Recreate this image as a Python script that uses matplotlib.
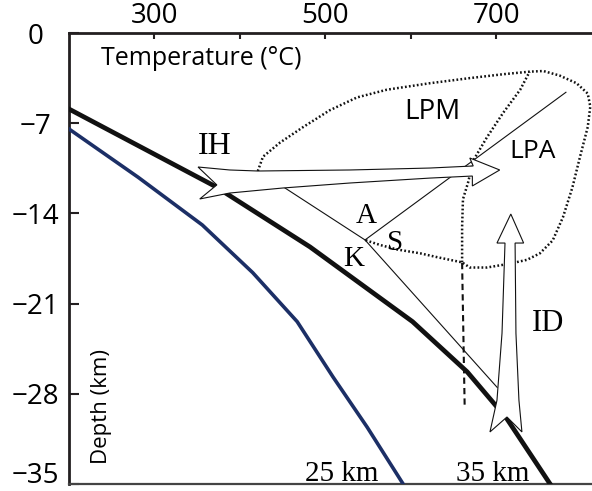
import numpy as np
import matplotlib
matplotlib.use('Agg')
import matplotlib.pyplot as plt
import matplotlib.transforms as mtransforms
from matplotlib.patches import Polygon

plt.rcParams['font.family'] = ['Open Sans', 'DejaVu Sans']
plt.rcParams['axes.unicode_minus'] = True

# geotherms (temperature in C, depth in km)
geo35_T = [200, 371, 482, 602, 666, 712, 763]
geo35_d = [-5.9, -11.9, -16.6, -22.4, -26.3, -29.9, -35.0]
geo25_T = [200, 281, 356, 415, 467, 509, 549, 591]
geo25_d = [-7.45, -11.2, -14.9, -18.6, -22.4, -26.7, -30.6, -35.0]

# dotted outline of the LPM / LPA field
field_T = [419, 421, 427, 447, 474, 505, 537, 572, 622, 669, 708, 739, 755, 774, 794,
           807, 810, 807, 798, 789, 778, 766, 751, 736, 716, 689, 669, 660, 631, 611,
           584, 564, 546]
field_d = [-11.0, -10.7, -9.6, -8.5, -7.3, -6.0, -5.0, -4.4, -3.9, -3.5, -3.2, -3.0, -2.95,
           -3.3, -3.9, -4.7, -5.7, -7.3, -9.6, -12.0, -14.3, -16.1, -17.1, -17.6, -17.9,
           -18.2, -18.2, -17.8, -17.4, -17.1, -16.8, -16.45, -16.06]
# dotted divider between LPM and LPA
divide_T = [660, 660, 661, 667, 673, 689, 708, 728, 739]
divide_d = [-17.8, -15.05, -12.9, -11.6, -9.9, -8.1, -6.2, -4.4, -3.0]
# dashed vertical line below the junction
dash_T = [660, 663]
dash_d = [-17.85, -29.0]

# thin P-T paths through K
pathK_T = [440, 546.4, 701]
pathK_d = [-11.48, -16.06, -27.5]
pathA_T = [546.4, 781.5]
pathA_d = [-16.06, -4.6]

# IH arrow outline (isobaric heating)
ih_T = [351, 388, 421, 529, 622, 673, 669, 704, 672, 672, 622, 529, 450, 388, 353, 373]
ih_d = [-10.4, -10.63, -10.71, -10.63, -10.48, -10.32, -9.7, -10.63, -11.87, -11.1,
        -11.26, -11.64, -12.03, -12.42, -12.88, -11.79]
# ID arrow outline (isothermal decompression)
id_T = [717, 732, 722, 723, 726.5, 730, 712.5, 692.6, 700.8, 706.7, 710.2, 700.8]
id_d = [-14.05, -16.3, -16.3, -23.3, -28.5, -30.96, -29.8, -30.96, -28.5, -23.3, -16.3, -16.3]

temp_ticks = [300, 400, 500, 600, 700]
temp_labels = ['300', '', '500', '', '700']
depth_ticks = [0, -7, -14, -21, -28, -35]

fig = plt.figure(figsize=(5.92, 4.91), dpi=100)
ax = fig.add_axes([69 / 592, 1 - 484 / 491, 1 - 69 / 592, (484 - 33) / 491])
ax.set_xlim(200, 812)
ax.set_ylim(-35, 0)

dark = '#231f20'
ax.spines['right'].set_visible(False)
ax.spines['left'].set_linewidth(2)
ax.spines['left'].set_color(dark)
ax.spines['top'].set_linewidth(2)
ax.spines['top'].set_color(dark)
ax.spines['bottom'].set_linewidth(1.6)
ax.spines['bottom'].set_color('#444444')

ax.xaxis.tick_top()
ax.set_xticks(temp_ticks)
ax.set_xticklabels(temp_labels)
ax.tick_params(axis='x', direction='in', length=4.5, width=1.5, color=dark,
               labelsize=20, pad=2)
ax.set_yticks(depth_ticks)
ax.set_yticklabels(['0' if v == 0 else '\u2212%d' % abs(v) for v in depth_ticks])
ax.tick_params(axis='y', direction='in', length=7, width=1.5, color=dark,
               labelsize=20, pad=24)
for lab in ax.get_yticklabels():
    lab.set_horizontalalignment('center')
# lowest label sits a little above its tick so it stays inside the figure
low = ax.get_yticklabels()[-1]
low.set_transform(low.get_transform() + mtransforms.ScaledTranslation(0, 8.5 / 72, fig.dpi_scale_trans))

dots = (0, (0.7, 0.9))
ax.plot(geo25_T, geo25_d, color='#1c2f66', lw=2.6, zorder=3)
ax.plot(geo35_T, geo35_d, color='#111111', lw=3.4, zorder=3)
ax.plot(field_T, field_d, color='#111111', lw=1.8, ls=dots, zorder=2)
ax.plot(divide_T, divide_d, color='#111111', lw=1.8, ls=dots, zorder=2)
ax.plot(dash_T, dash_d, color='#111111', lw=1.5, ls=(0, (3, 2)), zorder=2)
ax.plot(pathK_T, pathK_d, color='#111111', lw=0.8, zorder=2)
ax.plot(pathA_T, pathA_d, color='#111111', lw=0.8, zorder=2)

ax.add_patch(Polygon(np.column_stack([ih_T, ih_d]), closed=True, facecolor='white',
                     edgecolor='#111111', lw=0.8, zorder=5))
ax.add_patch(Polygon(np.column_stack([id_T, id_d]), closed=True, facecolor='white',
                     edgecolor='#111111', lw=0.8, zorder=5))

serif = ['Liberation Serif', 'DejaVu Serif']
ax.text(371, -8.77, 'IH', family=serif, fontsize=23, ha='center', va='center')
ax.text(547.5, -14.2, 'A', family=serif, fontsize=21, ha='center', va='center')
ax.text(581.5, -16.3, 'S', family=serif, fontsize=21, ha='center', va='center')
ax.text(533.5, -17.54, 'K', family=serif, fontsize=21, ha='center', va='center')
ax.text(760.5, -22.58, 'ID', family=serif, fontsize=22, ha='center', va='center')
ax.text(519, -34.2, '25 km', family=serif, fontsize=21, ha='center', va='center')
ax.text(696, -34.25, '35 km', family=serif, fontsize=21, ha='center', va='center')
ax.text(625, -6.13, 'LPM', fontsize=20, ha='center', va='center')
ax.text(743, -9.16, 'LPA', fontsize=19, ha='center', va='center')
ax.text(355, -2.0, 'Temperature (\u00b0C)', fontsize=18, ha='center', va='center')
ax.text(237.5, -29.0, 'Depth (km)', fontsize=16, rotation=90, ha='center', va='center')

fig.savefig('out.png', dpi=100)
